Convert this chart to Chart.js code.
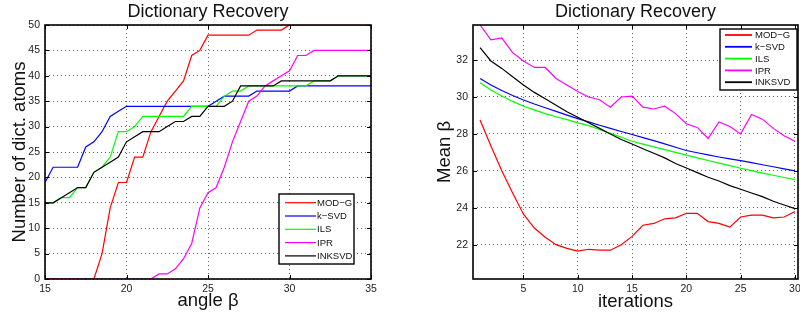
<!DOCTYPE html>
<html>
<head>
<meta charset="utf-8">
<script src="https://cdn.jsdelivr.net/npm/chart.js@4.4.0/dist/chart.umd.min.js"></script>
<style>
  html, body { margin: 0; padding: 0; background: #fff; }
  #wrap { position: relative; width: 800px; height: 320px; overflow: hidden; }
  .panel { position: absolute; top: 0; width: 400px; height: 320px; }
</style>
</head>
<body>
<div id="wrap">
  <div class="panel" style="left:0"><canvas id="angleChart" width="400" height="320"></canvas></div>
  <div class="panel" style="left:400px"><canvas id="iterChart" width="400" height="320"></canvas></div>
</div>
<script>
const methods = ['MOD\u2212G', 'k\u2212SVD', 'ILS', 'IPR', 'INKSVD'];
const colors = ['#ff0000', '#0000ff', '#00ff00', '#ff00ff', '#000000'];

// left panel: number of recovered atoms vs angle
const angles = [15, 15.5, 16, 16.5, 17, 17.5, 18, 18.5, 19, 19.5, 20, 20.5, 21, 21.5, 22, 22.5, 23, 23.5, 24, 24.5,
    25, 25.5, 26, 26.5, 27, 27.5, 28, 28.5, 29, 29.5, 30, 30.5, 31, 31.5, 32, 32.5, 33, 33.5, 34, 34.5, 35];
const modgAtoms = [0, 0, 0, 0, 0, 0, 0, 5, 14, 19, 19, 24, 24, 29, 32, 35, 37, 39, 44, 45,
    48, 48, 48, 48, 48, 48, 49, 49, 49, 49, 50, 50, 50, 50, 50, 50, 50, 50, 50, 50, 50];
const ksvdAtoms = [19, 22, 22, 22, 22, 26, 27, 29, 32, 33, 34, 34, 34, 34, 34, 34, 34, 34, 34, 34,
    34, 35, 36, 36, 36, 36, 37, 37, 37, 37, 37, 38, 38, 38, 38, 38, 38, 38, 38, 38, 38];
const ilsAtoms = [15, 15, 16, 16, 18, 18, 21, 22, 24, 29, 29, 30, 32, 32, 32, 32, 32, 32, 34, 34,
    34, 34, 36, 37, 37, 38, 38, 38, 38, 38, 38, 38, 38, 39, 39, 39, 40, 40, 40, 40, 40];
const iprAtoms = [0, 0, 0, 0, 0, 0, 0, 0, 0, 0, 0, 0, 0, 0, 1, 1, 2, 4, 7, 14,
    17, 18, 22, 27, 31, 35, 36, 38, 39, 40, 41, 44, 44, 45, 45, 45, 45, 45, 45, 45, 45];
const inksvdAtoms = [15, 15, 16, 17, 18, 18, 21, 22, 23, 24, 27, 28, 29, 29, 29, 30, 31, 31, 32, 32,
    34, 34, 34, 35, 38, 38, 38, 38, 38, 39, 39, 39, 39, 39, 39, 39, 40, 40, 40, 40, 40];
const angleTicks = [15, 20, 25, 30, 35];
const atomTicks = [0, 5, 10, 15, 20, 25, 30, 35, 40, 45, 50];

// right panel: mean angle vs iteration
const iterations = [1, 2, 3, 4, 5, 6, 7, 8, 9, 10, 11, 12, 13, 14, 15, 16, 17, 18, 19, 20,
    21, 22, 23, 24, 25, 26, 27, 28, 29, 30];
const modgMean = [28.75, 27.35, 26.0, 24.8, 23.65, 22.9, 22.4, 22.0, 21.8, 21.65, 21.75, 21.7, 21.7, 22.0, 22.45,
    23.05, 23.15, 23.4, 23.45, 23.7, 23.7, 23.25, 23.15, 22.95, 23.5, 23.6, 23.6, 23.45, 23.5, 23.8];
const ksvdMean = [31.0, 30.65, 30.35, 30.08, 29.84, 29.62, 29.42, 29.22, 29.02, 28.83, 28.65, 28.47, 28.3, 28.13, 27.97,
    27.8, 27.64, 27.46, 27.28, 27.1, 26.98, 26.86, 26.75, 26.65, 26.55, 26.44, 26.33, 26.22, 26.11, 26.0];
const ilsMean = [30.77, 30.38, 30.05, 29.76, 29.5, 29.3, 29.1, 28.93, 28.77, 28.6, 28.45, 28.24, 28.03, 27.82, 27.6,
    27.45, 27.3, 27.15, 27.0, 26.85, 26.7, 26.56, 26.42, 26.28, 26.14, 26.01, 25.88, 25.76, 25.64, 25.52];
const iprMean = [33.9, 33.1, 33.2, 32.4, 31.95, 31.6, 31.6, 31.0, 30.65, 30.3, 30.0, 29.85, 29.45, 30.0, 30.05,
    29.45, 29.35, 29.5, 29.1, 28.55, 28.35, 27.75, 28.65, 28.4, 28.0, 29.05, 28.8, 28.3, 27.9, 27.6];
const inksvdMean = [32.67, 31.95, 31.55, 31.1, 30.65, 30.25, 29.9, 29.55, 29.2, 28.9, 28.6, 28.3, 28.0, 27.7, 27.45,
    27.2, 26.95, 26.7, 26.4, 26.15, 25.9, 25.65, 25.45, 25.2, 25.0, 24.8, 24.6, 24.35, 24.15, 23.95];
const iterTicks = [5, 10, 15, 20, 25, 30];
const meanTicks = [22, 24, 26, 28, 30, 32];

const FONT = '"Liberation Sans", Arial, sans-serif';

// box, inward ticks, title, axis labels and the legend drawn inside the plot
const frame = {
    id: 'frame',
    afterDraw(chart, args, o) {
        const { ctx, chartArea: a } = chart;
        const xs = chart.scales.x, ys = chart.scales.y;
        ctx.save();
        ctx.strokeStyle = '#000';
        ctx.lineWidth = 1;
        ctx.beginPath();
        xs.ticks.forEach(t => {
            const p = Math.round(xs.getPixelForValue(t.value)) + 0.5;
            ctx.moveTo(p, a.bottom); ctx.lineTo(p, a.bottom - 4);
            ctx.moveTo(p, a.top); ctx.lineTo(p, a.top + 4);
        });
        ys.ticks.forEach(t => {
            const p = Math.round(ys.getPixelForValue(t.value)) + 0.5;
            ctx.moveTo(a.left, p); ctx.lineTo(a.left + 4, p);
            ctx.moveTo(a.right, p); ctx.lineTo(a.right - 4, p);
        });
        ctx.stroke();
        ctx.lineWidth = 1.6;
        ctx.strokeRect(a.left, a.top, a.right - a.left, a.bottom - a.top);

        const cx = (a.left + a.right) / 2;
        ctx.fillStyle = '#111';
        ctx.textAlign = 'center';
        ctx.textBaseline = 'alphabetic';
        ctx.font = '18px ' + FONT;
        ctx.fillText(o.title, cx, 17);
        ctx.font = '18.5px ' + FONT;
        ctx.fillText(o.xLabel, cx, o.xLabelY);
        ctx.save();
        ctx.translate(o.yLabelX, (a.top + a.bottom) / 2);
        ctx.rotate(-Math.PI / 2);
        ctx.fillText(o.yLabel, 0, 0);
        ctx.restore();

        const L = o.legend;
        ctx.fillStyle = '#fff';
        ctx.fillRect(L.x, L.y, L.w, L.h);
        ctx.strokeStyle = '#000';
        ctx.lineWidth = 1.4;
        ctx.strokeRect(L.x, L.y, L.w, L.h);
        ctx.font = '9.5px ' + FONT;
        ctx.textAlign = 'left';
        ctx.textBaseline = 'middle';
        methods.forEach((name, i) => {
            const y = L.y + L.first + i * L.row;
            ctx.strokeStyle = colors[i];
            ctx.lineWidth = L.lw;
            ctx.beginPath();
            ctx.moveTo(L.x + L.pad, y);
            ctx.lineTo(L.x + L.pad + L.len, y);
            ctx.stroke();
            ctx.fillStyle = '#111';
            ctx.fillText(name, L.x + L.textX, y + 0.5);
        });
        ctx.restore();
    }
};

function buildSets(xs, series) {
    return series.map((vals, i) => ({
        label: methods[i],
        data: xs.map((x, k) => ({ x: x, y: vals[k] })),
        borderColor: colors[i],
        borderWidth: 1.2,
        pointRadius: 0,
        tension: 0,
        order: series.length - i
    }));
}

function buildScales(xMin, xMax, xTicks, yMin, yMax, yTicks, yWidth) {
    const tickFont = { family: FONT, size: 10.5 };
    const grid = { color: 'rgba(0,0,0,0.6)', lineWidth: 1, drawTicks: false };
    const border = { display: false, dash: [1, 3] };
    return {
        x: {
            type: 'linear', min: xMin, max: xMax, grid, border,
            ticks: { font: tickFont, color: '#222', padding: 4, maxRotation: 0, autoSkip: false },
            afterBuildTicks: s => { s.ticks = xTicks.map(v => ({ value: v })); },
            afterFit: s => { s.height = 41; s.paddingLeft = 0; s.paddingRight = 0; }
        },
        y: {
            type: 'linear', min: yMin, max: yMax, grid, border,
            ticks: { font: tickFont, color: '#222', padding: 5, autoSkip: false },
            afterBuildTicks: s => { s.ticks = yTicks.map(v => ({ value: v })); },
            afterFit: s => { s.width = yWidth; s.paddingTop = 0; s.paddingBottom = 0; }
        }
    };
}

new Chart(document.getElementById('angleChart'), {
    type: 'line',
    data: { datasets: buildSets(angles, [modgAtoms, ksvdAtoms, ilsAtoms, iprAtoms, inksvdAtoms]) },
    options: {
        responsive: false,
        animation: false,
        layout: { padding: { top: 25, right: 29, left: 0, bottom: 0 } },
        scales: buildScales(15, 35, angleTicks, 0, 50, atomTicks, 45),
        plugins: {
            legend: { display: false },
            tooltip: { enabled: false },
            frame: {
                title: 'Dictionary Recovery',
                xLabel: 'angle \u03b2', xLabelY: 306,
                yLabel: 'Number of dict. atoms', yLabelX: 25,
                legend: { x: 279, y: 194, w: 75, h: 70, first: 8.7, row: 13.3, pad: 6, len: 31, textX: 38, lw: 1.2 }
            }
        }
    },
    plugins: [frame]
});

new Chart(document.getElementById('iterChart'), {
    type: 'line',
    data: { datasets: buildSets(iterations, [modgMean, ksvdMean, ilsMean, iprMean, inksvdMean]) },
    options: {
        responsive: false,
        animation: false,
        layout: { padding: { top: 25, right: 2, left: 0, bottom: 0 } },
        scales: buildScales(0.35, 30.28, iterTicks, 20.14, 33.9, meanTicks, 73),
        plugins: {
            legend: { display: false },
            tooltip: { enabled: false },
            frame: {
                title: 'Dictionary Recovery',
                xLabel: 'iterations', xLabelY: 307,
                yLabel: 'Mean \u03b2', yLabelX: 50,
                legend: { x: 320, y: 29, w: 77, h: 61, first: 6, row: 11.8, pad: 5, len: 27, textX: 35, lw: 1.8 }
            }
        }
    },
    plugins: [frame]
});
</script>
</body>
</html>
